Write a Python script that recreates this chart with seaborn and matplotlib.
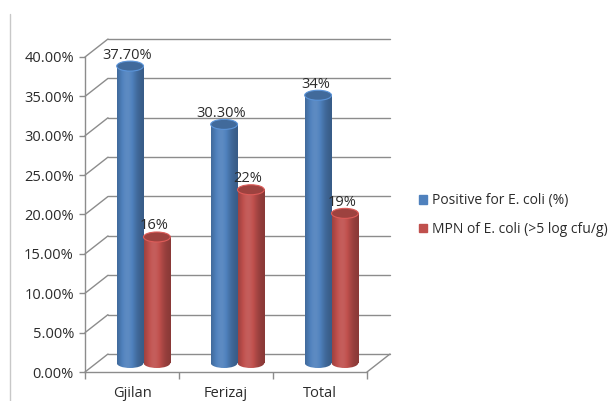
import numpy as np
import pandas as pd
import seaborn as sns
import matplotlib.pyplot as plt
from matplotlib.patches import Ellipse, Rectangle
from matplotlib.lines import Line2D
from matplotlib.colors import to_rgb

# ---- data ----
regions = ['Gjilan', 'Ferizaj', 'Total']
series = ['Positive for E. coli (%)', 'MPN of E. coli (>5 log cfu/g)']
positive = [0.377, 0.303, 0.34]
mpn = [0.16, 0.22, 0.19]
positive_labels = ['37.70%', '30.30%', '34%']
mpn_labels = ['16%', '22%', '19%']
yticks = [0, 0.05, 0.10, 0.15, 0.20, 0.25, 0.30, 0.35, 0.40]
colors = ['#4F81BD', '#C0504D']

df = pd.DataFrame({
    'region': regions * 2,
    'series': [series[0]] * 3 + [series[1]] * 3,
    'value': positive + mpn,
})

sns.set_style('white')
plt.rcParams['font.family'] = ['Open Sans', 'DejaVu Sans']
text_col = '#2b2b2b'
grid_col = '#8c8c8c'

fig = plt.figure(figsize=(6.16, 4.01), dpi=100)
ax = fig.add_axes([85 / 616, 29 / 401, 282 / 616, 315 / 401])
sns.barplot(data=df, x='region', y='value', hue='series', palette=colors,
            width=0.57, ax=ax, legend=False, zorder=3)

xmin, xmax, ymax = -0.5, 2.5, 0.40
# 3D depth of the chart expressed in data units (px -> data)
px_x = 282 / (xmax - xmin)
px_y = 315 / ymax
dep_x, dep_y = 23 / px_x, 18 / px_y
mid_x, mid_y = dep_x / 2, dep_y / 2
ell_h = 10 / px_y

# back wall gridlines + left wall slants
for t in yticks:
    ax.plot([xmin + dep_x, xmax + dep_x], [t + dep_y, t + dep_y], color=grid_col,
            lw=1, clip_on=False, zorder=1)
    ax.plot([xmin, xmin + dep_x], [t, t + dep_y], color=grid_col, lw=1,
            clip_on=False, zorder=1)
# floor right edge
ax.plot([xmax, xmax + dep_x], [0, dep_y], color=grid_col, lw=1, clip_on=False, zorder=1)

# cylinders
u = np.linspace(0, 1, 80)
shade = 0.7 + 0.4 * np.exp(-((u - 0.38) / 0.35) ** 2)

def gradient(color):
    base = np.array(to_rgb(color))
    img = np.empty((1, len(u), 3))
    for i, s in enumerate(shade):
        if s <= 1:
            img[0, i] = base * s
        else:
            img[0, i] = base + (1 - base) * (s - 1) * 0.8
    return np.clip(img, 0, 1)

bars = list(ax.patches)
for k, p in enumerate(bars):
    col = colors[k // 3]
    x0, w, h = p.get_x(), p.get_width(), p.get_height()
    p.set_visible(False)
    x0 += mid_x
    cx = x0 + w / 2
    img = gradient(col)
    ax.imshow(img, extent=(x0, x0 + w, mid_y, h + mid_y), aspect='auto',
              zorder=3, interpolation='bilinear')
    bot = Ellipse((cx, mid_y), w, ell_h, transform=ax.transData)
    im2 = ax.imshow(img, extent=(x0, x0 + w, mid_y - ell_h, mid_y + ell_h),
                    aspect='auto', zorder=3, interpolation='bilinear')
    im2.set_clip_path(bot)
    base = np.array(to_rgb(col))
    ax.add_patch(Ellipse((cx, h + mid_y), w, ell_h, facecolor=base * 0.82,
                         edgecolor=np.clip(base * 1.15, 0, 1), lw=0.8, zorder=4))

# value labels
all_labels = positive_labels + mpn_labels
for p, lab in zip(bars, all_labels):
    cx = p.get_x() + p.get_width() / 2 + mid_x
    ax.annotate(lab, xy=(cx, p.get_height() + mid_y), xytext=(-2, 8),
                textcoords='offset points', ha='center', va='center',
                fontsize=10.5, color=text_col, zorder=5)

ax.set_xlim(xmin, xmax)
ax.set_ylim(0, ymax)
ax.set_yticks(yticks)
ax.set_yticklabels([f'{t * 100:.2f}%' for t in yticks])
ax.set_xticks([-0.5, 0.5, 1.5, 2.5], minor=True)
ax.set_xlabel('')
ax.set_ylabel('')
ax.tick_params(axis='y', length=4, width=1, color=grid_col, pad=4, labelsize=10.5,
               labelcolor=text_col, left=True)
ax.tick_params(axis='x', which='major', length=0, pad=10, labelsize=10.5, labelcolor=text_col)
ax.tick_params(axis='x', which='minor', length=5, width=1, color=grid_col, bottom=True)
for s in ['top', 'right']:
    ax.spines[s].set_visible(False)
for s in ['left', 'bottom']:
    ax.spines[s].set_color(grid_col)
    ax.spines[s].set_linewidth(1)
ax.patch.set_alpha(0)

handles = [Rectangle((0, 0), 1, 1, color=c) for c in colors]
fig.legend(handles, series, loc='center left', bbox_to_anchor=(419 / 616, 1 - 215 / 401),
           frameon=False, fontsize=10, handlelength=0.6, handleheight=0.6,
           handletextpad=0.3, labelspacing=1.0, labelcolor=text_col,
           borderpad=0, borderaxespad=0)

fig.add_artist(Line2D([10 / 616, 10 / 616], [0, 1 - 14 / 401], transform=fig.transFigure,
                      color='#c8c8c8', lw=1))

fig.savefig('out.png', dpi=100)
